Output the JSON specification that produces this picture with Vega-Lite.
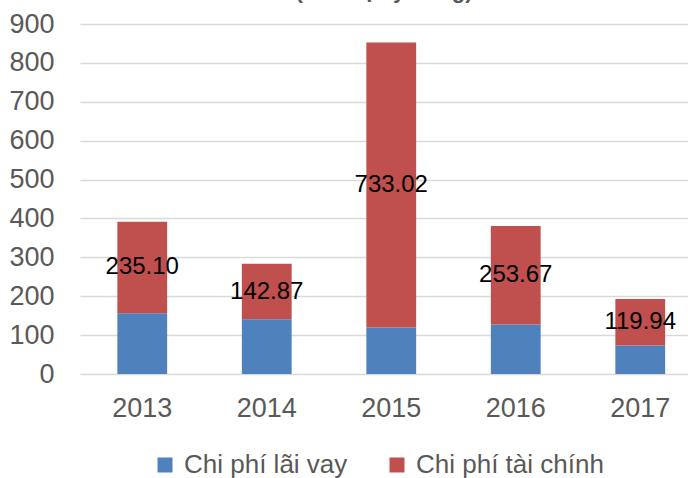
{
  "$schema": "https://vega.github.io/schema/vega-lite/v6.json",
  "width": 608,
  "height": 350,
  "autosize": "none",
  "padding": {"left": 80, "top": 24, "right": 0, "bottom": 104},
  "background": "white",
  "title": {
    "text": "(Đơn vị: tỷ đồng)",
    "fontSize": 22,
    "fontWeight": "bold",
    "color": "#595959",
    "font": "Liberation Sans",
    "baseline": "alphabetic",
    "frame": "group",
    "anchor": "middle",
    "offset": 12,
    "dy": 21.5
  },
  "data": {
    "values": [
      {"year": "2013", "series": "Chi phí lãi vay", "value": 156.5},
      {"year": "2014", "series": "Chi phí lãi vay", "value": 140.5},
      {"year": "2015", "series": "Chi phí lãi vay", "value": 119.5},
      {"year": "2016", "series": "Chi phí lãi vay", "value": 127},
      {"year": "2017", "series": "Chi phí lãi vay", "value": 73},
      {"year": "2013", "series": "Chi phí tài chính", "value": 235.10},
      {"year": "2014", "series": "Chi phí tài chính", "value": 142.87},
      {"year": "2015", "series": "Chi phí tài chính", "value": 733.02},
      {"year": "2016", "series": "Chi phí tài chính", "value": 253.67},
      {"year": "2017", "series": "Chi phí tài chính", "value": 119.94}
    ]
  },
  "encoding": {
    "x": {
      "field": "year",
      "type": "nominal",
      "sort": null,
      "scale": {"range": [0, 622.5], "paddingInner": 0.6, "paddingOuter": 0.3},
      "axis": {
        "title": null,
        "labelAngle": 0,
        "domain": false,
        "ticks": false,
        "labelPadding": 21,
        "labelFontSize": 27,
        "labelColor": "#595959",
        "labelFont": "Liberation Sans"
      }
    }
  },
  "layer": [
    {
      "mark": {"type": "bar"},
      "encoding": {
        "y": {
          "field": "value",
          "type": "quantitative",
          "stack": "zero",
          "scale": {"domain": [0, 900], "nice": false, "zero": true},
          "axis": {
            "title": null,
            "values": [0, 100, 200, 300, 400, 500, 600, 700, 800, 900],
            "labelOverlap": false,
            "domain": false,
            "ticks": false,
            "labelPadding": 26,
            "labelFontSize": 27,
            "labelColor": "#595959",
            "labelFont": "Liberation Sans",
            "gridColor": "#D9D9D9",
            "gridWidth": 1.5
          }
        },
        "color": {
          "field": "series",
          "type": "nominal",
          "scale": {
            "domain": ["Chi phí lãi vay", "Chi phí tài chính"],
            "range": ["#4F81BD", "#C0504D"]
          },
          "legend": {
            "title": null,
            "orient": "none",
            "direction": "horizontal",
            "legendX": 72,
            "legendY": 428,
            "symbolType": "square",
            "symbolSize": 225,
            "symbolStrokeWidth": 0,
            "labelFontSize": 26,
            "labelLimit": 400,
            "labelColor": "#595959",
            "labelFont": "Liberation Sans",
            "labelOffset": 6,
            "columnPadding": 36,
            "padding": 0
          }
        },
        "order": {"field": "series", "sort": "ascending"}
      }
    },
    {
      "transform": [
        {"stack": "value", "groupby": ["year"], "sort": [{"field": "series", "order": "ascending"}], "as": ["v0", "v1"]},
        {"filter": "datum.series === 'Chi phí tài chính'"},
        {"fold": ["v0", "v1"], "as": ["edge", "pos"]}
      ],
      "mark": {"type": "text", "fontSize": 24, "font": "Liberation Sans", "color": "black", "baseline": "middle"},
      "encoding": {
        "y": {
          "aggregate": "mean",
          "field": "pos",
          "type": "quantitative",
          "scale": {"domain": [0, 900], "nice": false, "zero": true},
          "axis": {
            "title": null,
            "values": [0, 100, 200, 300, 400, 500, 600, 700, 800, 900],
            "labelOverlap": false,
            "domain": false,
            "ticks": false,
            "labelPadding": 26,
            "labelFontSize": 27,
            "labelColor": "#595959",
            "labelFont": "Liberation Sans",
            "gridColor": "#D9D9D9",
            "gridWidth": 1.5
          }
        },
        "text": {"aggregate": "max", "field": "value", "type": "quantitative", "format": ".2f"}
      }
    }
  ],
  "config": {
    "view": {"stroke": null}
  }
}
